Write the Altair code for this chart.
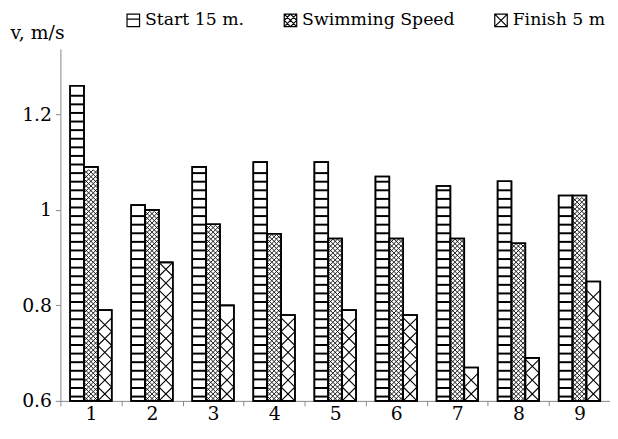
import altair as alt
import pandas as pd

groups = ["1", "2", "3", "4", "5", "6", "7", "8", "9"]
series = ["Start 15 m.", "Swimming Speed", "Finish 5 m"]
start = [1.26, 1.01, 1.09, 1.10, 1.10, 1.07, 1.05, 1.06, 1.03]
swim = [1.09, 1.00, 0.97, 0.95, 0.94, 0.94, 0.94, 0.93, 1.03]
finish = [0.79, 0.89, 0.80, 0.78, 0.79, 0.78, 0.67, 0.69, 0.85]
y_ticks = [0.6, 0.8, 1.0, 1.2]

rows = []
for s, vals in zip(series, [start, swim, finish]):
    for g, v in zip(groups, vals):
        rows.append({"group": g, "series": s, "value": v})
df = pd.DataFrame(rows)

FONT = "DejaVu Serif"
YMIN, YMAX = 0.6, 1.337

x_enc = alt.X("group:N", sort=groups,
              scale=alt.Scale(paddingInner=0, paddingOuter=0),
              axis=alt.Axis(title=None, labelAngle=0, tickBand="extent", tickSize=5,
                            labelPadding=14, labelBaseline="alphabetic"))
xo_enc = alt.XOffset("series:N", sort=series,
                     scale=alt.Scale(paddingInner=0, paddingOuter=0.7))
y_scale = alt.Scale(domain=[YMIN, YMAX], zero=False, nice=False)

base = alt.Chart(df)

bars = base.mark_bar(fill="white", stroke="black", strokeWidth=1.6).encode(
    x=x_enc, xOffset=xo_enc,
    y=alt.Y("value:Q", scale=y_scale,
            axis=alt.Axis(values=y_ticks, format=".1~f", grid=False, tickSize=5,
                          labelPadding=4,
                          title="v, m/s", titleAngle=0, titleX=-51, titleY=-11,
                          titleAlign="left", titleBaseline="alphabetic")),
    y2=alt.datum(YMIN),
)

def pattern(sname, step, shape, size, sw):
    half = step / 2
    return base.transform_filter(alt.datum.series == sname).transform_calculate(
        rowpos=f"sequence({YMIN + half}, datum.value - {half} + 0.0001, {step})"
    ).transform_flatten(["rowpos"]).mark_point(
        shape=shape, size=size, filled=False, stroke="black", strokeWidth=sw, opacity=1
    ).encode(x=x_enc, xOffset=xo_enc, y=alt.Y("rowpos:Q", scale=y_scale))

stripes = pattern(series[0], 0.018, "M-1,0L1,0", 197, 2)
small_x = pattern(series[1], 0.00968,
                  "M-1,-0.333L-0.333,0.333M-0.333,-0.333L-1,0.333"
                  "M-0.333,-0.333L0.333,0.333M0.333,-0.333L-0.333,0.333"
                  "M0.333,-0.333L1,0.333M1,-0.333L0.333,0.333", 197, 0.9)
big_x = pattern(series[2], 0.029, "M-1,-1L1,1M1,-1L-1,1", 197, 1.1)

outline = base.mark_bar(fillOpacity=0, stroke="black", strokeWidth=1.6).encode(
    x=x_enc, xOffset=xo_enc, y=alt.Y("value:Q", scale=y_scale), y2=alt.datum(YMIN)
)

legend_paths = [
    "M-1,-1H1V1H-1Z M-1,-0.2H1",
    "M-1,-1H1V1H-1Z M-1,-1L1,1M1,-1L-1,1M0,-1L1,0L0,1L-1,0Z",
    "M-1,-1H1V1H-1Z M-1,-1L1,1M1,-1L-1,1",
]
legend_layer = base.mark_point(opacity=0).encode(
    x=x_enc, xOffset=xo_enc, y=alt.Y("value:Q", scale=y_scale),
    shape=alt.Shape("series:N", sort=series,
                    scale=alt.Scale(domain=series, range=legend_paths),
                    legend=alt.Legend(title=None, orient="none", direction="horizontal",
                                      legendX=65, legendY=-38, symbolSize=160,
                                      symbolOpacity=1, symbolFillColor="white",
                                      symbolStrokeColor="black", symbolStrokeWidth=1.2,
                                      labelLimit=300, labelOffset=3, columnPadding=38,
                                      padding=0)),
)

chart = alt.layer(bars, stripes, small_x, big_x, outline, legend_layer).properties(
    width=556, height=356,
    autosize=alt.AutoSizeParams(type="none"),
    padding={"left": 53, "top": 39, "right": 0, "bottom": 24},
).configure(font=FONT).configure_view(stroke=None).configure_axis(
    labelFont=FONT, labelFontSize=19, labelColor="black",
    titleFont=FONT, titleFontSize=19, titleFontWeight="normal", titleColor="black",
    domainColor="#888888", tickColor="#888888",
).configure_legend(
    labelFont=FONT, labelFontSize=17.5, labelColor="black",
)

chart.save("out.html", embed_options={"renderer": "svg", "actions": False})
